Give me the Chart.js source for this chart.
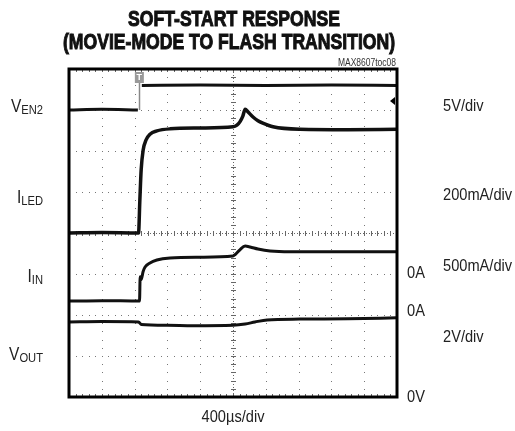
<!DOCTYPE html>
<html>
<head>
<meta charset="utf-8">
<script src="https://cdn.jsdelivr.net/npm/chart.js@4.4.1/dist/chart.umd.min.js"></script>
<style>
  html, body { margin: 0; padding: 0; background: #fff; }
  #wrap { width: 515px; height: 431px; position: relative; }
</style>
</head>
<body>
<div id="wrap"><canvas id="scope"></canvas></div>
<script>
// scope screen: 10 x 8 divisions, values below are in divisions
var xDivs = 10;
var yDivs = 8;
var trigX = 2.13;

// V_EN2 trace (null = gap where the trigger line is)
var ven2X = [0, 1.0, 2.1, 2.13, 2.22, 4.0, 6.0, 8.0, 10];
var ven2Y = [7.0, 7.02, 7.0, null, 7.6, 7.61, 7.6, 7.61, 7.6];

// I_LED trace
var iledX = [0, 1.0, 2.12, 2.16, 2.2, 2.26, 2.35, 2.47, 2.68, 3.08, 3.99, 5.0, 5.12, 5.21, 5.3, 5.37, 5.46, 5.61, 5.76, 5.91, 6.22, 7.04, 8.5, 10];
var iledY = [4.0, 4.01, 4.0, 4.8, 5.54, 6.02, 6.27, 6.41, 6.49, 6.54, 6.56, 6.59, 6.63, 6.71, 6.85, 7.02, 6.95, 6.83, 6.74, 6.68, 6.59, 6.53, 6.52, 6.53];

// I_IN trace
var iinX = [0, 1.0, 2.15, 2.17, 2.2, 2.26, 2.32, 2.47, 2.68, 3.08, 3.99, 5.0, 5.09, 5.21, 5.37, 5.52, 5.76, 6.13, 6.74, 8.5, 10];
var iinY = [2.34, 2.35, 2.34, 2.93, 2.86, 3.06, 3.17, 3.27, 3.34, 3.39, 3.41, 3.44, 3.49, 3.59, 3.68, 3.66, 3.61, 3.56, 3.54, 3.54, 3.54];

// V_OUT trace
var voutX = [0, 1.0, 2.12, 2.2, 3.0, 3.78, 5.0, 5.37, 5.67, 6.04, 7.04, 8.5, 10];
var voutY = [1.83, 1.84, 1.83, 1.77, 1.75, 1.74, 1.75, 1.78, 1.83, 1.88, 1.90, 1.91, 1.93];

function pts(xs, ys) {
    var out = [];
    for (var i = 0; i < xs.length; i++) out.push({x: xs[i], y: ys[i]});
    return out;
}

function trace(xs, ys, w) {
    return {
        data: pts(xs, ys),
        borderColor: '#111',
        borderWidth: w,
        pointRadius: 0,
        cubicInterpolationMode: 'monotone',
        spanGaps: false,
        fill: false
    };
}

var ftxt = '"Liberation Sans", Arial, "DejaVu Sans", sans-serif';

// condensed text: the original uses a narrow Helvetica
function narrowText(ctx, s, x, y, font, sx, align, heavy) {
    ctx.save();
    ctx.font = font;
    var w = ctx.measureText(s).width * sx;
    var x0 = x;
    if (align === 'center') x0 = x - w / 2;
    else if (align === 'right') x0 = x - w;
    ctx.translate(x0, y);
    ctx.scale(sx, 1);
    ctx.textAlign = 'left';
    ctx.fillText(s, 0, 0);
    if (heavy) {
        ctx.strokeStyle = ctx.fillStyle;
        ctx.lineWidth = heavy;
        ctx.strokeText(s, 0, 0);
    }
    ctx.restore();
    return w;
}

function subLabel(ctx, main, sub, xRight, y) {
    var sx = 0.86;
    ctx.font = '18px ' + ftxt;
    var w1 = ctx.measureText(main).width * sx;
    ctx.font = '13px ' + ftxt;
    var w2 = ctx.measureText(sub).width * sx;
    var x0 = xRight - w1 - w2;
    ctx.textBaseline = 'alphabetic';
    narrowText(ctx, main, x0, y + 6, '18px ' + ftxt, sx, 'left');
    narrowText(ctx, sub, x0 + w1, y + 8, '13px ' + ftxt, sx, 'left');
}

var scopeDeco = {
    id: 'scopeDeco',
    beforeDatasetsDraw: function (chart) {
        var ctx = chart.ctx;
        var xs = chart.scales.x, ys = chart.scales.y;
        var a = chart.chartArea;
        ctx.save();
        ctx.fillStyle = '#777';
        // dotted grid
        for (var i = 1; i < xDivs; i++) {
            if (i === 5) continue;
            var px = xs.getPixelForValue(i);
            for (var k = 1; k < yDivs * 5; k++) {
                ctx.fillRect(Math.round(px), Math.round(ys.getPixelForValue(k / 5)), 1, 1);
            }
        }
        for (var j = 1; j < yDivs; j++) {
            if (j === 4) continue;
            var py = ys.getPixelForValue(j);
            for (var k2 = 1; k2 < xDivs * 5; k2++) {
                ctx.fillRect(Math.round(xs.getPixelForValue(k2 / 5)), Math.round(py), 1, 1);
            }
        }
        // centre axes with minor ticks
        ctx.strokeStyle = '#666';
        ctx.lineWidth = 1;
        var cx = Math.round(xs.getPixelForValue(5)) + 0.5;
        var cy = Math.round(ys.getPixelForValue(4)) + 0.5;
        ctx.setLineDash([1, 2]);
        ctx.beginPath();
        ctx.moveTo(cx, a.top); ctx.lineTo(cx, a.bottom);
        ctx.moveTo(a.left, cy); ctx.lineTo(a.right, cy);
        ctx.stroke();
        ctx.setLineDash([]);
        ctx.beginPath();
        for (var m = 1; m < xDivs * 5; m++) {
            var tx = Math.round(xs.getPixelForValue(m / 5)) + 0.5;
            ctx.moveTo(tx, cy - 2.5); ctx.lineTo(tx, cy + 2.5);
            ctx.moveTo(tx, a.top); ctx.lineTo(tx, a.top + 3);
            ctx.moveTo(tx, a.bottom); ctx.lineTo(tx, a.bottom - 3);
        }
        for (var n = 1; n < yDivs * 5; n++) {
            var ty = Math.round(ys.getPixelForValue(n / 5)) + 0.5;
            ctx.moveTo(cx - 2.5, ty); ctx.lineTo(cx + 2.5, ty);
        }
        ctx.stroke();
        // trigger marker line
        var trx = Math.round(xs.getPixelForValue(trigX)) + 0.5;
        ctx.strokeStyle = '#888';
        ctx.lineWidth = 1.5;
        ctx.beginPath();
        ctx.moveTo(trx, a.top + 4);
        ctx.lineTo(trx, ys.getPixelForValue(7.0));
        ctx.stroke();
        ctx.restore();
    },
    afterDatasetsDraw: function (chart) {
        var ctx = chart.ctx;
        var xs = chart.scales.x, ys = chart.scales.y;
        var a = chart.chartArea;
        ctx.save();
        // frame
        ctx.strokeStyle = '#000';
        ctx.lineWidth = 3;
        ctx.strokeRect(a.left, a.top, a.right - a.left, a.bottom - a.top);
        // trigger marker
        var trx = xs.getPixelForValue(trigX);
        ctx.fillStyle = '#999';
        ctx.fillRect(trx - 4, a.top + 3, 9, 11);
        ctx.fillStyle = '#fff';
        ctx.font = 'bold 9px ' + ftxt;
        ctx.textAlign = 'center';
        ctx.textBaseline = 'middle';
        ctx.fillText('T', trx + 0.5, a.top + 9);
        // ground arrow
        ctx.fillStyle = '#000';
        var ay = ys.getPixelForValue(7.22);
        ctx.beginPath();
        ctx.moveTo(a.right - 7, ay);
        ctx.lineTo(a.right - 2, ay - 4);
        ctx.lineTo(a.right - 2, ay + 4);
        ctx.closePath();
        ctx.fill();

        // titles
        ctx.fillStyle = '#111';
        ctx.textBaseline = 'middle';
        narrowText(ctx, 'SOFT-START RESPONSE', 234, 20, 'bold 22px ' + ftxt, 0.8, 'center', 1);
        narrowText(ctx, '(MOVIE-MODE TO FLASH TRANSITION)', 229, 43, 'bold 22px ' + ftxt, 0.8, 'center', 1);
        ctx.fillStyle = '#333';
        narrowText(ctx, 'MAX8607toc08', 396, 63, '10px ' + ftxt, 0.85, 'right');

        // channel names
        ctx.fillStyle = '#222';
        subLabel(ctx, 'V', 'EN2', 43, 106);
        subLabel(ctx, 'I', 'LED', 43, 197);
        subLabel(ctx, 'I', 'IN', 43, 276);
        subLabel(ctx, 'V', 'OUT', 43, 354);

        // scale texts
        ctx.textBaseline = 'middle';
        var f = '17px ' + ftxt;
        narrowText(ctx, '5V/div', 443, 106, f, 0.86, 'left');
        narrowText(ctx, '200mA/div', 443, 195, f, 0.86, 'left');
        narrowText(ctx, '500mA/div', 443, 266, f, 0.86, 'left');
        narrowText(ctx, '2V/div', 443, 337, f, 0.86, 'left');
        narrowText(ctx, '0A', 407, 273, f, 0.86, 'left');
        narrowText(ctx, '0A', 407, 311, f, 0.86, 'left');
        narrowText(ctx, '0V', 407, 397, f, 0.86, 'left');
        narrowText(ctx, '400\u00b5s/div', 233, 417, f, 0.86, 'center');
        ctx.restore();
    }
};

window.onload = function () {
    var ctx = document.getElementById('scope').getContext('2d');
    window.theScope = new Chart(ctx, {
        type: 'line',
        data: {
            datasets: [
                trace(ven2X, ven2Y, 3),
                trace(iledX, iledY, 3.5),
                trace(iinX, iinY, 3),
                trace(voutX, voutY, 3)
            ]
        },
        options: {
            responsive: true,
            maintainAspectRatio: false,
            animation: false,
            layout: {
                padding: {left: 69, right: 118, top: 69, bottom: 34}
            },
            plugins: {
                legend: {display: false},
                title: {display: false},
                tooltip: {enabled: false}
            },
            scales: {
                x: {type: 'linear', min: 0, max: xDivs, display: false},
                y: {type: 'linear', min: 0, max: yDivs, display: false}
            }
        },
        plugins: [scopeDeco]
    });
};
</script>
</body>
</html>
